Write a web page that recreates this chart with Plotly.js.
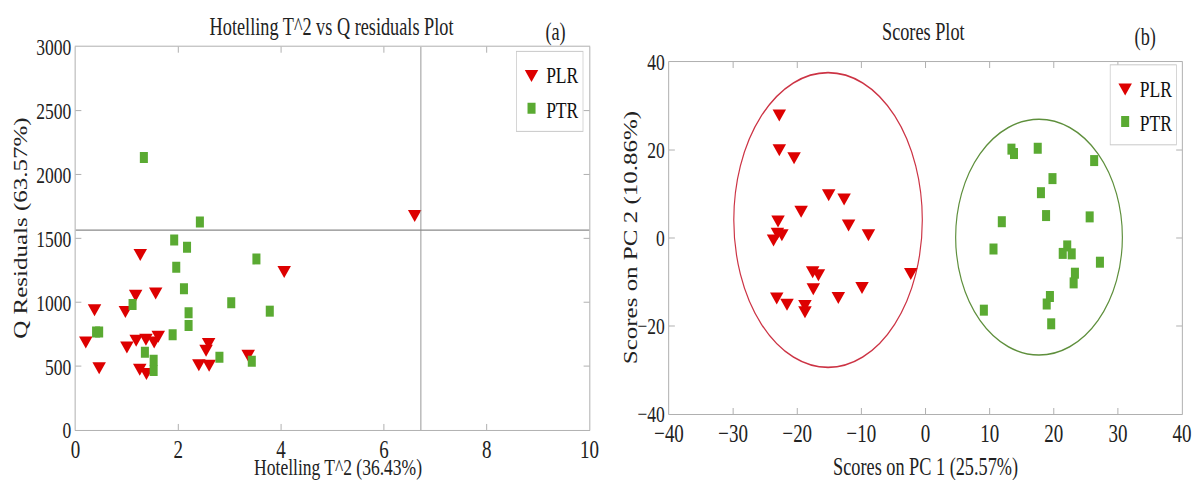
<!DOCTYPE html>
<html>
<head>
<meta charset="utf-8">
<script src="https://cdn.plot.ly/plotly-3.0.1.min.js"></script>
<style>
html,body{margin:0;padding:0;background:#fff;overflow:hidden;}
#wrap{width:1193px;height:480px;overflow:hidden;}
#plot{width:1634px;height:480px;transform:scaleX(0.7301);transform-origin:0 0;}
</style>
</head>
<body>
<div id="wrap"><div id="plot"></div></div>
<script>
// ---- Panel (a): Hotelling T^2 vs Q residuals ----
const plrT2 = [1.26, 4.06, 1.56, 1.17, 0.37, 0.97, 0.20, 1.00, 1.18, 1.37, 1.53, 1.61, 2.59, 2.54, 3.36, 0.46, 1.25, 1.38, 2.40, 2.60, 6.60];
const plrQ  = [1386, 1253, 1084, 1066, 953, 940, 701, 662, 714, 722, 701, 745, 688, 636, 597, 498, 488, 453, 523, 519, 1690];
const ptrT2 = [1.33, 2.42, 1.92, 2.17, 3.52, 1.96, 2.11, 3.03, 3.78, 1.11, 2.20, 2.20, 0.40, 0.46, 1.89, 1.35, 1.52, 1.52, 2.80, 3.43];
const ptrQ  = [2133, 1628, 1487, 1430, 1339, 1274, 1105, 995, 930, 982, 917, 818, 766, 766, 745, 609, 545, 466, 570, 537];
const qLimit = 1565;   // Q residual limit
const t2Limit = 6.72;  // Hotelling T^2 limit

// ---- Panel (b): Scores plot ----
const plrPC1 = [-22.8, -22.8, -20.5, -15.1, -12.7, -19.4, -23.0, -12.0, -8.9, -23.7, -23.1, -22.4, -17.6, -16.7, -17.5, -13.6, -9.9, -23.2, -21.6, -18.8, -18.8, -2.3];
const plrPC2 = [28.3, 20.4, 18.6, 10.2, 9.2, 6.4, 4.2, 3.3, 1.1, -0.1, 1.4, 1.1, -7.3, -8.0, -11.2, -13.2, -10.9, -13.3, -14.7, -15.0, -16.4, -7.7];
const ptrPC1 = [13.4, 13.8, 17.5, 26.3, 19.8, 18.0, 18.8, 25.6, 11.9, 10.6, 22.1, 21.4, 22.8, 27.2, 23.3, 23.1, 19.4, 18.9, 9.1, 19.6];
const ptrPC2 = [20.2, 19.2, 20.4, 17.6, 13.5, 10.3, 5.1, 4.8, 3.7, -2.5, -1.8, -3.5, -3.6, -5.5, -8.0, -10.2, -13.3, -15.0, -16.4, -19.5];
// confidence ellipses: [centerPC1, centerPC2, radiusPC1, radiusPC2]
const plrEllipse = [-15.2, 4.1, 14.7, 33.5];
const ptrEllipse = [17.7, 0.2, 13.0, 26.8];

const groupNames = ['PLR', 'PTR'];
const axTicksA = {x: [0, 2, 4, 6, 8, 10], y: [0, 500, 1000, 1500, 2000, 2500, 3000]};
const axTicksB = {x: [-40, -30, -20, -10, 0, 10, 20, 30, 40], y: [-40, -20, 0, 20, 40]};

const RED = '#dd0000', GREEN = '#5aaa32';
const FONT = 'Liberation Serif, Times New Roman, serif';

const traces = [
  {x: plrT2, y: plrQ, name: groupNames[0], type: 'scatter', mode: 'markers', xaxis: 'x', yaxis: 'y',
   legend: 'legend',
   marker: {symbol: 'triangle-down', size: 16, color: RED, line: {width: 0}}},
  {x: ptrT2, y: ptrQ, name: groupNames[1], type: 'scatter', mode: 'markers', xaxis: 'x', yaxis: 'y',
   legend: 'legend',
   marker: {symbol: 'square', size: 11, color: GREEN, line: {width: 0}}},
  {x: plrPC1, y: plrPC2, name: groupNames[0], type: 'scatter', mode: 'markers', xaxis: 'x2', yaxis: 'y2',
   legend: 'legend2',
   marker: {symbol: 'triangle-down', size: 16, color: RED, line: {width: 0}}},
  {x: ptrPC1, y: ptrPC2, name: groupNames[1], type: 'scatter', mode: 'markers', xaxis: 'x2', yaxis: 'y2',
   legend: 'legend2',
   marker: {symbol: 'square', size: 11, color: GREEN, line: {width: 0}}}
];

const AX = {
  showline: true, linecolor: '#a3a3a3', linewidth: 1, mirror: 'ticks',
  ticks: 'inside', tickcolor: '#a3a3a3', showgrid: false, zeroline: false,
  tickfont: {family: FONT, size: 24, color: '#222'}
};
const XTF = {family: FONT, size: 26, color: '#222'};

function ellipseShape(e, color) {
  return {type: 'circle', xref: 'x2', yref: 'y2',
    x0: e[0] - e[2], x1: e[0] + e[2], y0: e[1] - e[3], y1: e[1] + e[3],
    line: {color: color, width: 1.6}, layer: 'below'};
}

const layout = {
  width: 1634, height: 480,
  margin: {l: 0, r: 0, t: 0, b: 0},
  paper_bgcolor: '#fff', plot_bgcolor: '#fff',
  font: {family: FONT, color: '#222'},
  showlegend: true,
  xaxis: Object.assign({}, AX, {domain: [0.0633, 0.4941], range: [0, 10], tickvals: axTicksA.x, ticklen: 6, anchor: 'y', tickfont: XTF, ticklabelstandoff: -4}),
  yaxis: Object.assign({}, AX, {domain: [0.1042, 0.9027], range: [0, 3000], tickvals: axTicksA.y, ticklen: 8, anchor: 'x'}),
  xaxis2: Object.assign({}, AX, {domain: [0.5608, 0.9908], range: [-40, 40], tickvals: axTicksB.x, ticklen: 6, anchor: 'y2', tickfont: XTF, ticklabelstandoff: -4}),
  yaxis2: Object.assign({}, AX, {domain: [0.1375, 0.8708], range: [-40, 40], tickvals: axTicksB.y, ticklen: 8, anchor: 'x2'}),
  legend: {x: 0.489, xanchor: 'right', y: 0.894, yanchor: 'top', bgcolor: '#fff',
    bordercolor: '#c8c8c8', borderwidth: 1, font: {family: FONT, size: 24, color: '#111'}, tracegroupgap: 0},
  legend2: {x: 0.9866, xanchor: 'right', y: 0.866, yanchor: 'top', bgcolor: '#fff',
    bordercolor: '#c8c8c8', borderwidth: 1, font: {family: FONT, size: 24, color: '#111'}, tracegroupgap: 0},
  shapes: [
    {type: 'line', xref: 'x', yref: 'y', x0: 0, x1: 10, y0: qLimit, y1: qLimit, line: {color: '#8a8a8a', width: 1.2}},
    {type: 'line', xref: 'x', yref: 'y', x0: t2Limit, x1: t2Limit, y0: 0, y1: 3000, line: {color: '#8a8a8a', width: 1.2}},
    ellipseShape(plrEllipse, '#cc3344'),
    ellipseShape(ptrEllipse, '#5e8f3c')
  ],
  annotations: [
    {text: 'Hotelling T^2 vs Q residuals Plot', xref: 'paper', yref: 'paper', x: 0.278, y: 0.944, showarrow: false, xanchor: 'center', yanchor: 'middle', font: {family: FONT, size: 25, color: '#222'}},
    {text: '(a)', xref: 'paper', yref: 'paper', x: 0.4658, y: 0.9325, showarrow: false, xanchor: 'center', yanchor: 'middle', font: {family: FONT, size: 25, color: '#222'}},
    {text: 'Scores Plot', xref: 'paper', yref: 'paper', x: 0.774, y: 0.934, showarrow: false, xanchor: 'center', yanchor: 'middle', font: {family: FONT, size: 25, color: '#222'}},
    {text: '(b)', xref: 'paper', yref: 'paper', x: 0.9598, y: 0.922, showarrow: false, xanchor: 'center', yanchor: 'middle', font: {family: FONT, size: 25, color: '#222'}},
    {text: 'Hotelling T^2 (36.43%)', xref: 'paper', yref: 'paper', x: 0.2833, y: 0.027, showarrow: false, xanchor: 'center', yanchor: 'middle', font: {family: FONT, size: 24, color: '#222'}},
    {text: 'Scores on PC 1 (25.57%)', xref: 'paper', yref: 'paper', x: 0.7754, y: 0.027, showarrow: false, xanchor: 'center', yanchor: 'middle', font: {family: FONT, size: 25, color: '#222'}},
    {text: 'Q Residuals (63.57%)', xref: 'paper', yref: 'paper', x: 0.0176, y: 0.525, textangle: -90, showarrow: false, xanchor: 'center', yanchor: 'middle', font: {family: FONT, size: 25, color: '#222'}},
    {text: 'Scores on PC 2 (10.86%)', xref: 'paper', yref: 'paper', x: 0.5289, y: 0.504, textangle: -90, showarrow: false, xanchor: 'center', yanchor: 'middle', font: {family: FONT, size: 25, color: '#222'}}
  ]
};

Plotly.newPlot('plot', traces, layout, {displayModeBar: false, responsive: false});
</script>
</body>
</html>
